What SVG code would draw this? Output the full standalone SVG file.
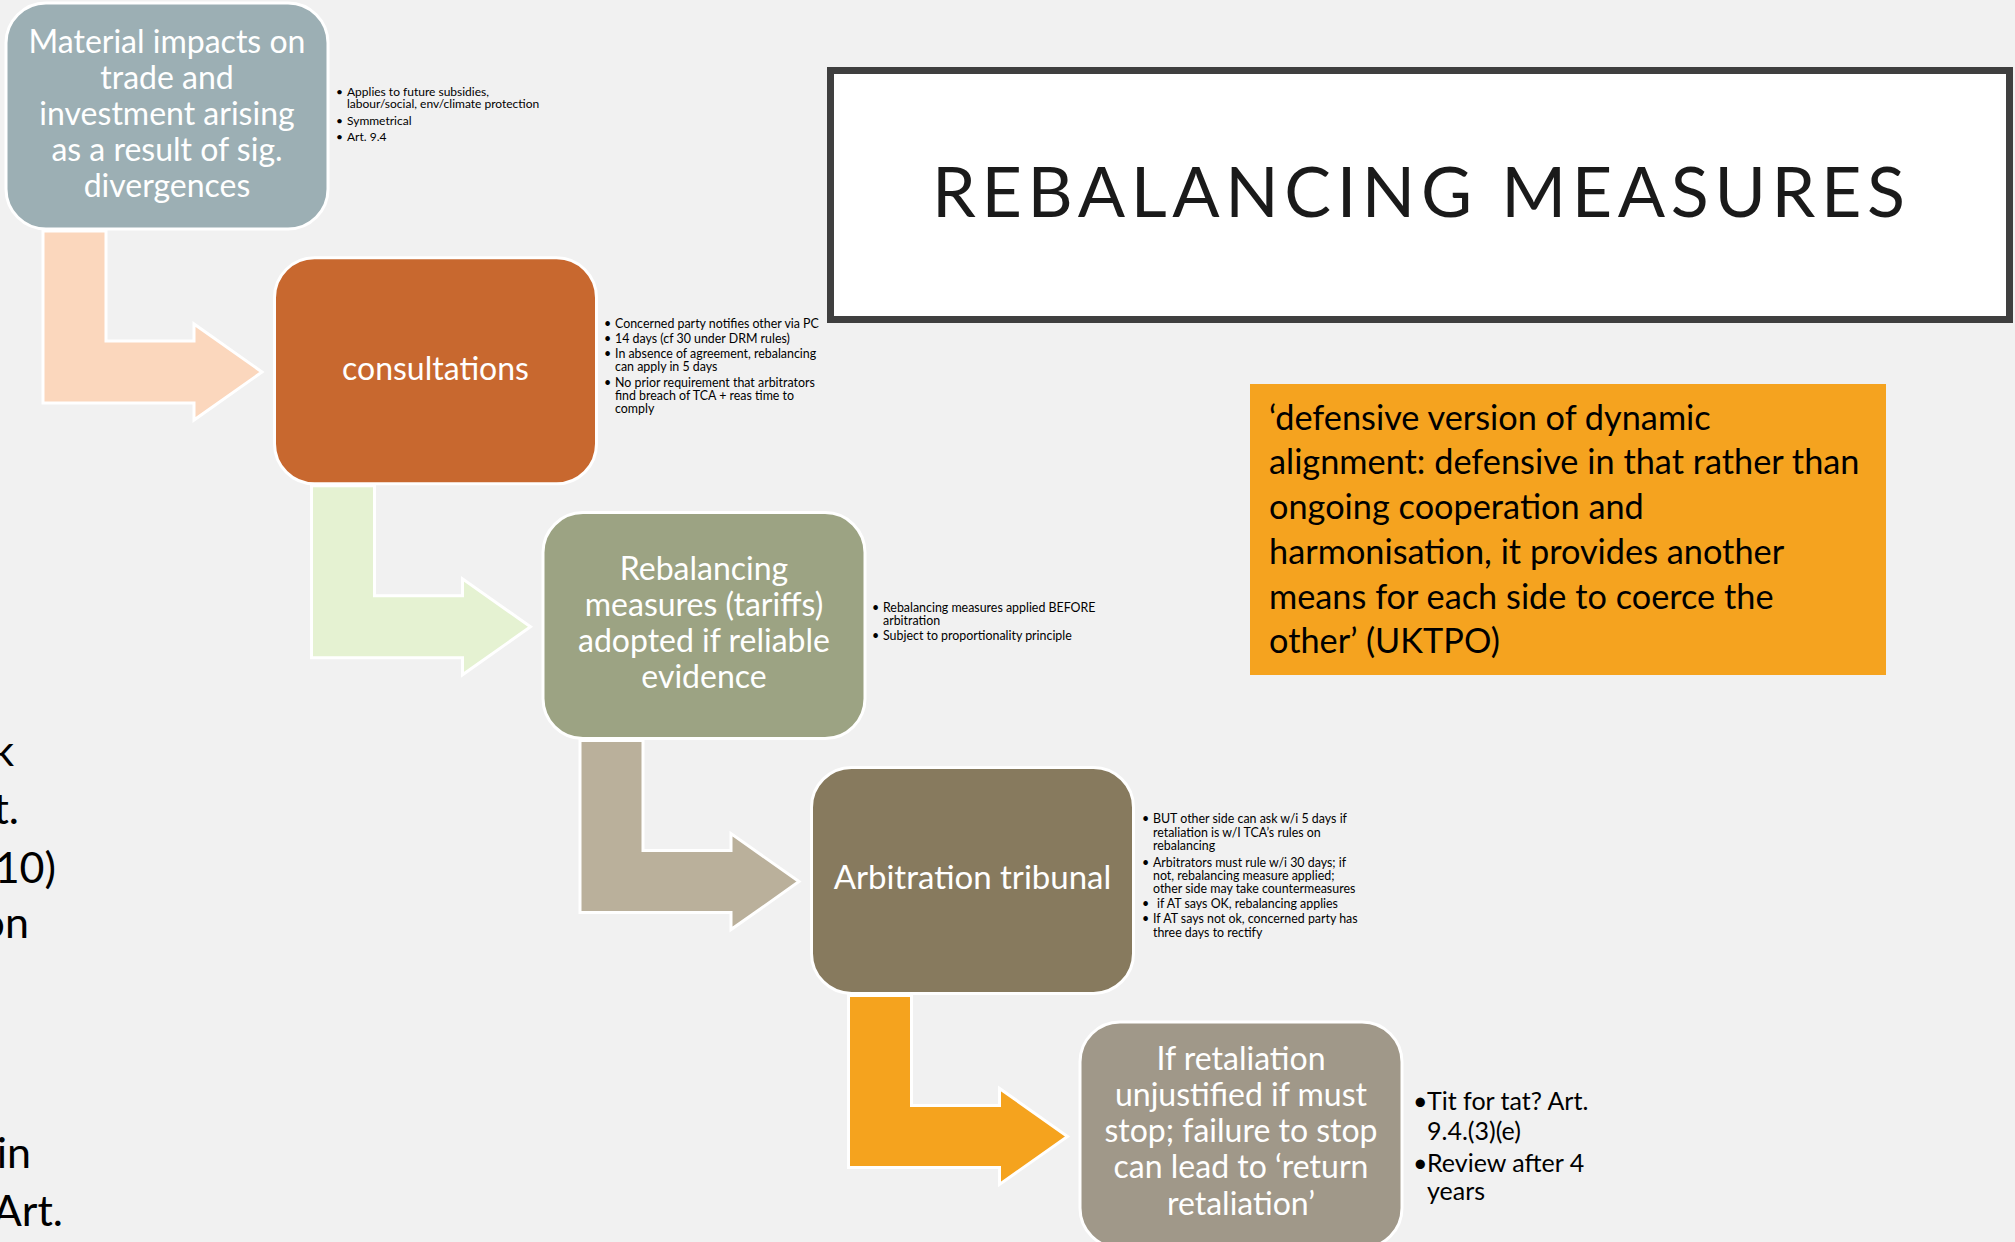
<svg xmlns="http://www.w3.org/2000/svg" width="2015" height="1242" viewBox="0 0 2015 1242">
<style>
text{font-family:Lato,"Open Sans","Noto Sans",sans-serif}
.node{stroke:#ffffff;stroke-width:3}
.arrow{stroke:#ffffff;stroke-width:3}
.big{font-size:32px;fill:#ffffff;text-anchor:middle}
.sm{font-size:12.4px;fill:#000000}
.sm11{font-size:12px;fill:#000000}
.side{font-size:43px;fill:#000000;text-anchor:end}
.quote{font-size:34.3px;fill:#000000}
.b5{font-size:25px;fill:#000000}
</style>
<defs>
<path id="bent" d="M37,228 H100 V338 H188 V321 L256,369 L188,417 V400 H37 Z"/>
</defs>
<rect x="0" y="0" width="2015" height="1242" fill="#f1f1f1"/>

<g id="side-text">
<text class="side" x="14" y="766">k</text>
<text class="side" x="19" y="824">t.</text>
<text class="side" x="56" y="883">10)</text>
<text class="side" x="29" y="938">on</text>
<text class="side" x="31" y="1168">in</text>
<text class="side" x="63" y="1226">Art.</text>
</g>

<g id="connectors">
<use href="#bent" class="arrow" fill="#fbd7bd" transform="translate(6,3)"/>
<use href="#bent" class="arrow" fill="#e5f2d2" transform="translate(274.5,257.8)"/>
<use href="#bent" class="arrow" fill="#bab09b" transform="translate(543,512.6)"/>
<use href="#bent" class="arrow" fill="#f5a31e" transform="translate(811.5,767.4)"/>
</g>

<g id="node1">
<rect class="node" x="6" y="3" width="322" height="226" rx="40" fill="#9cafb4"/>
<text class="big" x="167" y="53">Material impacts on</text>
<text class="big" x="167" y="89">trade and</text>
<text class="big" x="167" y="125">investment arising</text>
<text class="big" x="167" y="161">as a result of sig.</text>
<text class="big" x="167" y="197">divergences</text>
<g class="sm11">
<text x="336" y="96">•</text><text x="347" y="96">Applies to future subsidies,</text>
<text x="347" y="108">labour/social, env/climate protection</text>
<text x="336" y="125">•</text><text x="347" y="125">Symmetrical</text>
<text x="336" y="141">•</text><text x="347" y="141">Art. 9.4</text>
</g>
</g>

<g id="node2">
<rect class="node" x="274.5" y="257.8" width="322" height="226" rx="40" fill="#c8682f"/>
<text class="big" x="435.5" y="380">consultations</text>
<g class="sm">
<text x="604" y="328">•</text><text x="615" y="328">Concerned party notifies other via PC</text>
<text x="604" y="343">•</text><text x="615" y="343">14 days (cf 30 under DRM rules)</text>
<text x="604" y="358">•</text><text x="615" y="358">In absence of agreement, rebalancing</text>
<text x="615" y="371">can apply in 5 days</text>
<text x="604" y="387">•</text><text x="615" y="387">No prior requirement that arbitrators</text>
<text x="615" y="400">find breach of TCA + reas time to</text>
<text x="615" y="413">comply</text>
</g>
</g>

<g id="node3">
<rect class="node" x="543" y="512.6" width="322" height="226" rx="40" fill="#9ca383"/>
<text class="big" x="704" y="580">Rebalancing</text>
<text class="big" x="704" y="616">measures (tariffs)</text>
<text class="big" x="704" y="652">adopted if reliable</text>
<text class="big" x="704" y="688">evidence</text>
<g class="sm">
<text x="872" y="612">•</text><text x="883" y="612">Rebalancing measures applied BEFORE</text>
<text x="883" y="625">arbitration</text>
<text x="872" y="640">•</text><text x="883" y="640">Subject to proportionality principle</text>
</g>
</g>

<g id="node4">
<rect class="node" x="811.5" y="767.4" width="322" height="226" rx="40" fill="#877a5e"/>
<text class="big" x="972.5" y="889" style="font-size:33px">Arbitration tribunal</text>
<g class="sm">
<text x="1142" y="823">•</text><text x="1153" y="823">BUT other side can ask w/i 5 days if</text>
<text x="1153" y="837">retaliation is w/I TCA’s rules on</text>
<text x="1153" y="850">rebalancing</text>
<text x="1142" y="867">•</text><text x="1153" y="867">Arbitrators must rule w/i 30 days; if</text>
<text x="1153" y="880">not, rebalancing measure applied;</text>
<text x="1153" y="893">other side may take countermeasures</text>
<text x="1142" y="908">•</text><text x="1157" y="908">if AT says OK, rebalancing applies</text>
<text x="1142" y="923">•</text><text x="1153" y="923">If AT says not ok, concerned party has</text>
<text x="1153" y="937">three days to rectify</text>
</g>
</g>

<g id="node5">
<rect class="node" x="1080" y="1022" width="322" height="226" rx="40" fill="#a09889"/>
<text class="big" x="1241" y="1070">If retaliation</text>
<text class="big" x="1241" y="1106">unjustified if must</text>
<text class="big" x="1241" y="1142">stop; failure to stop</text>
<text class="big" x="1241" y="1178">can lead to ‘return</text>
<text class="big" x="1241" y="1215">retaliation’</text>
<g class="b5">
<text x="1413" y="1110">•</text><text x="1427" y="1110">Tit for tat? Art.</text>
<text x="1427" y="1140">9.4.(3)(e)</text>
<text x="1413" y="1172">•</text><text x="1427" y="1172">Review after 4</text>
<text x="1427" y="1200">years</text>
</g>
</g>

<g id="title">
<rect x="830.5" y="70.5" width="1179" height="249" fill="#ffffff" stroke="#3f3f3f" stroke-width="7"/>
<text x="932" y="217" style="font-size:70px;fill:#1a1a1a" textLength="973" lengthAdjust="spacing">REBALANCING MEASURES</text>
</g>

<g id="quote">
<rect x="1250" y="384" width="636" height="291" fill="#f5a31f"/>
<text class="quote" x="1269" y="430">‘defensive version of dynamic</text>
<text class="quote" x="1269" y="474">alignment: defensive in that rather than</text>
<text class="quote" x="1269" y="519">ongoing cooperation and</text>
<text class="quote" x="1269" y="564">harmonisation, it provides another</text>
<text class="quote" x="1269" y="609">means for each side to coerce the</text>
<text class="quote" x="1269" y="653">other’ (UKTPO)</text>
</g>
</svg>
